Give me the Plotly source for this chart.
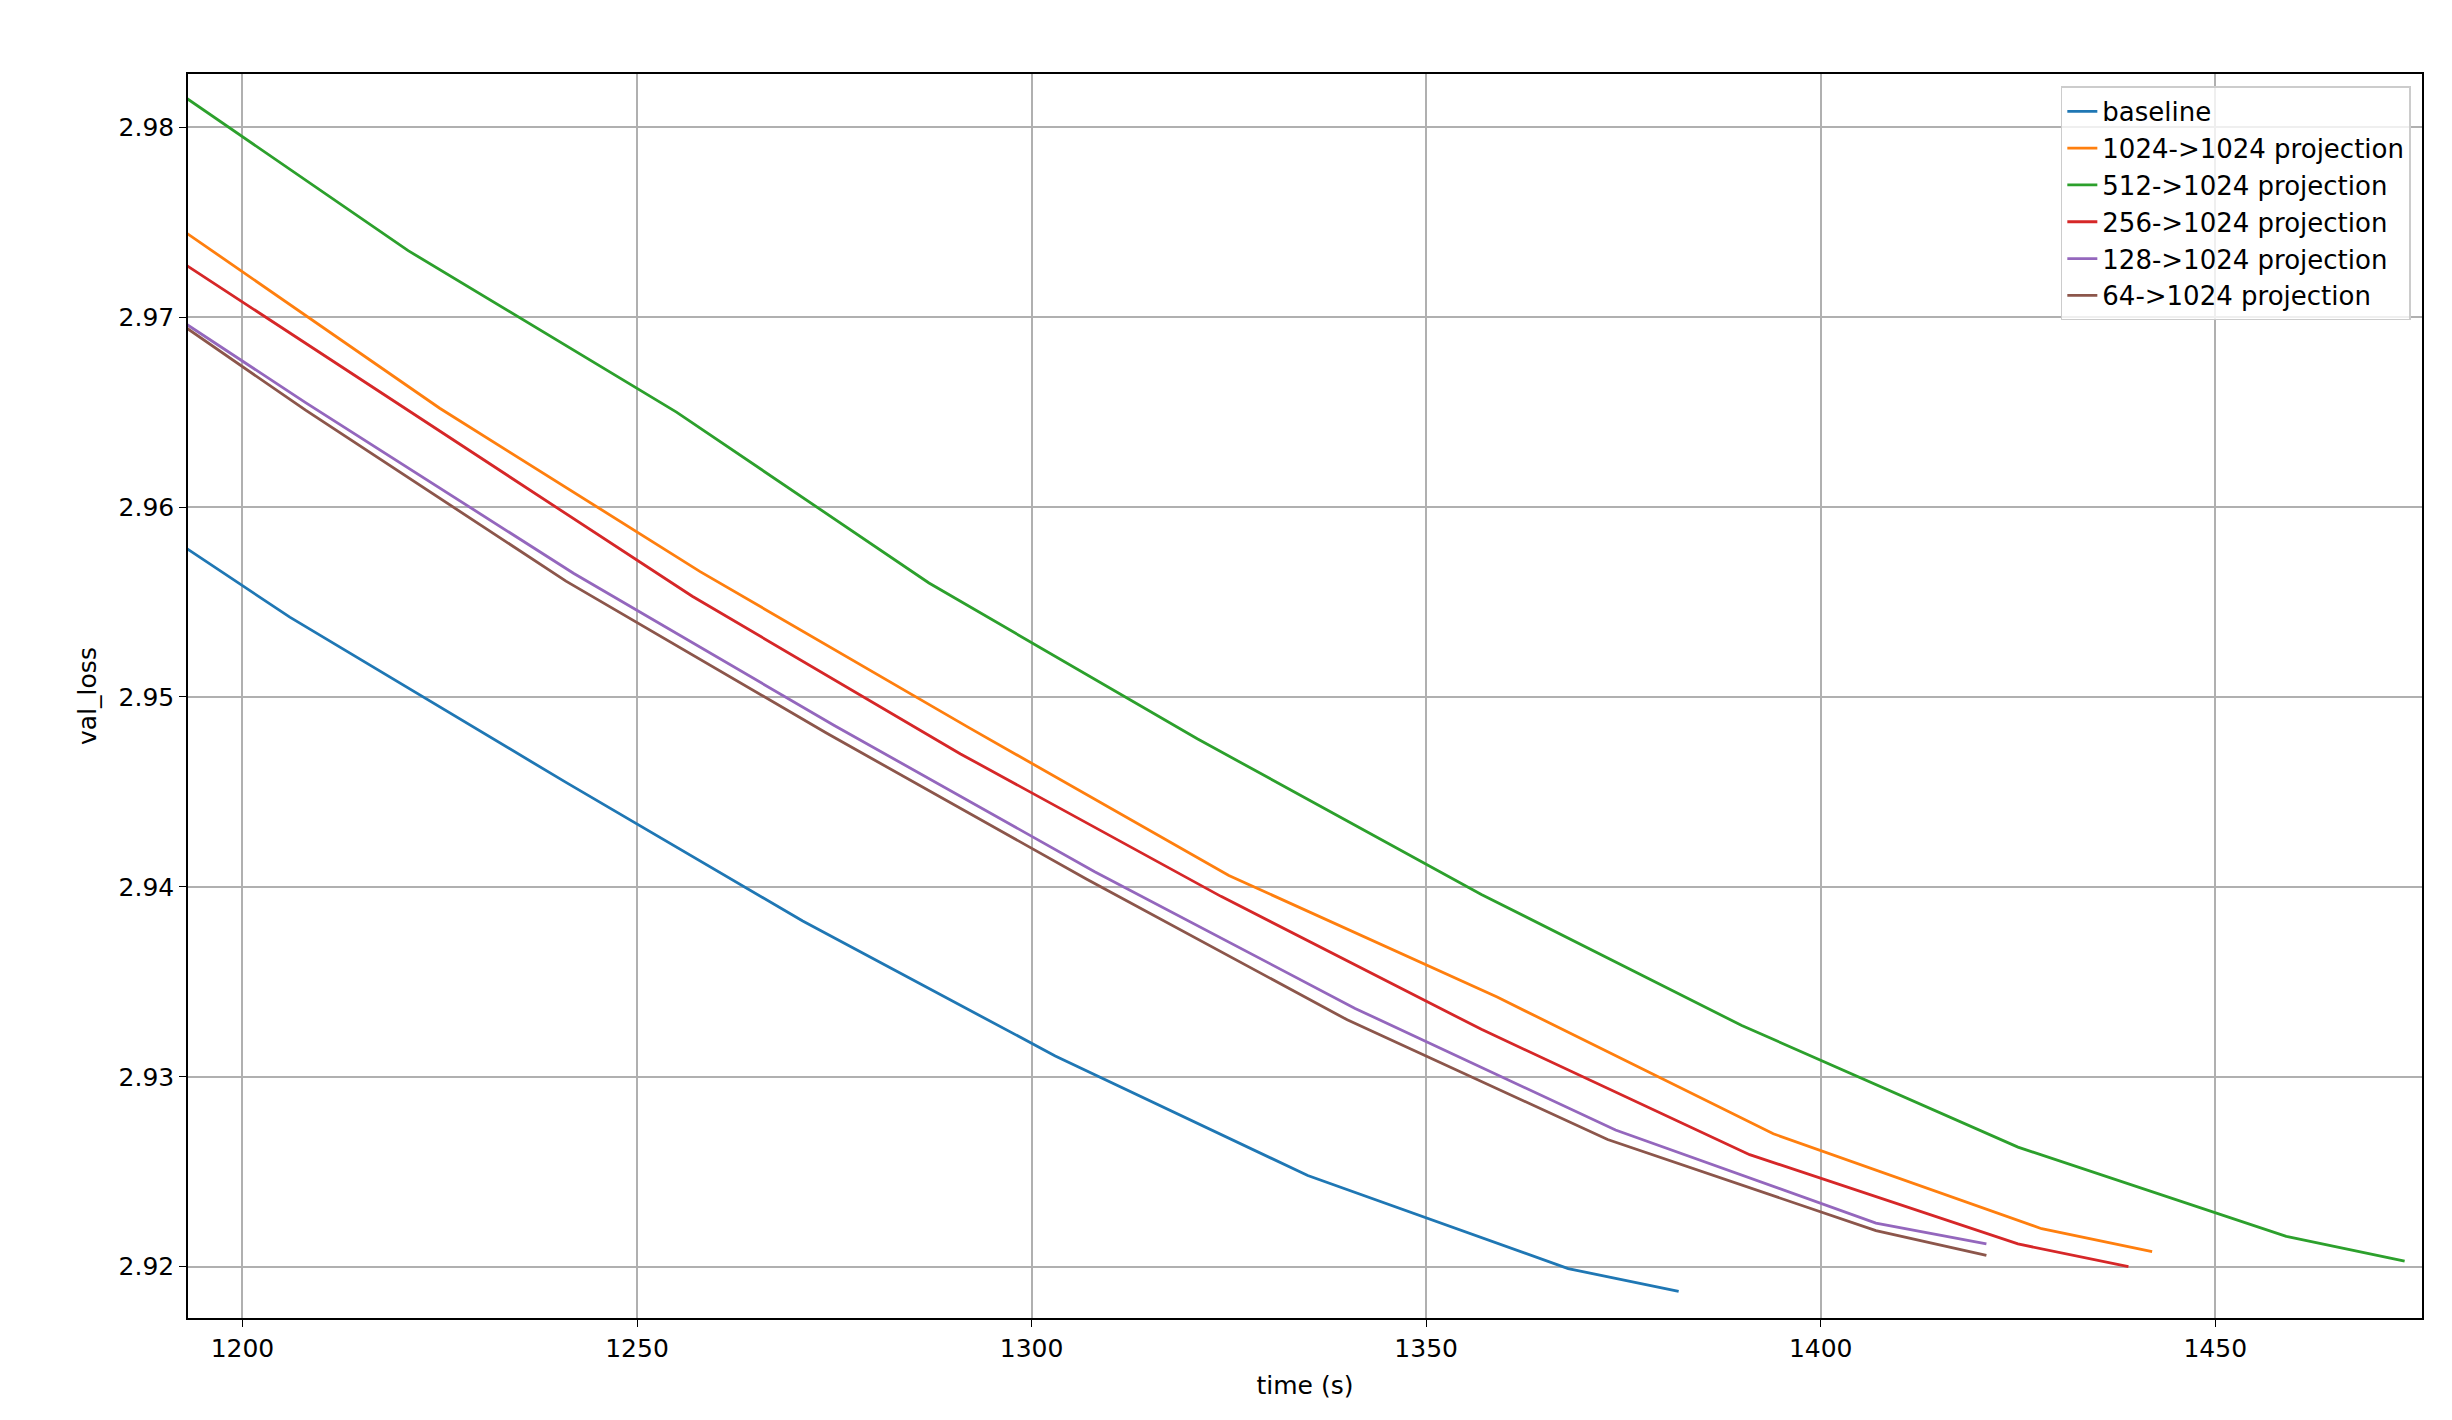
import plotly.graph_objects as go

names = ['baseline', '1024->1024 projection', '512->1024 projection',
         '256->1024 projection', '128->1024 projection', '64->1024 projection']
colors = ['#1f77b4', '#ff7f0e', '#2ca02c', '#d62728', '#9467bd', '#8c564b']

baseline_t = [1193, 1206, 1241, 1271, 1303, 1335, 1368, 1382]
baseline_v = [2.9578, 2.9542, 2.9455, 2.9382, 2.9311, 2.9248, 2.9199, 2.9187]
p1024_t = [1193, 1225, 1258, 1292, 1325, 1359, 1394, 1428, 1442]
p1024_v = [2.9744, 2.9652, 2.9566, 2.9484, 2.9406, 2.9342, 2.9270, 2.9220, 2.9208]
p512_t = [1193, 1221, 1255, 1287, 1321, 1357, 1390, 1425, 1459, 1474]
p512_v = [2.9815, 2.9735, 2.9650, 2.9560, 2.9478, 2.9396, 2.9327, 2.9263, 2.9216, 2.9203]
p256_t = [1193, 1225, 1257, 1291, 1324, 1357, 1391, 1425, 1439]
p256_v = [2.9727, 2.9640, 2.9553, 2.9470, 2.9395, 2.9325, 2.9259, 2.9212, 2.9200]
p128_t = [1193, 1208, 1242, 1275, 1308, 1341, 1374, 1407, 1421]
p128_v = [2.9696, 2.9655, 2.9565, 2.9485, 2.9408, 2.9336, 2.9272, 2.9223, 2.9212]
p64_t = [1193, 1208, 1241, 1274, 1307, 1340, 1373, 1407, 1421]
p64_v = [2.9694, 2.9651, 2.9561, 2.9481, 2.9404, 2.9330, 2.9267, 2.9219, 2.9206]

series = [(baseline_t, baseline_v), (p1024_t, p1024_v), (p512_t, p512_v),
          (p256_t, p256_v), (p128_t, p128_v), (p64_t, p64_v)]

fig = go.Figure()
for name, color, (t, v) in zip(names, colors, series):
    fig.add_trace(go.Scatter(x=t, y=v, mode='lines', name=name,
                             line=dict(color=color, width=2.8)))

axis = dict(showline=True, linecolor='black', linewidth=1.5, mirror=True,
            showgrid=True, gridcolor='#b0b0b0', gridwidth=1.5, zeroline=False,
            ticks='outside', ticklen=7, tickcolor='black',
            tickfont=dict(size=25, color='black'))
fig.update_layout(
    width=2452, height=1420,
    paper_bgcolor='white', plot_bgcolor='white',
    font=dict(family='DejaVu Sans', size=25, color='black'),
    margin=dict(l=180, r=38, t=66, b=110),
    xaxis=dict(axis, range=[1193.1, 1476.2], dtick=50, title=dict(text='time (s)', font=dict(size=25))),
    yaxis=dict(axis, range=[2.9173, 2.9828], dtick=0.01, tickformat='.2f',
               title=dict(text='val_loss', font=dict(size=25))),
    legend=dict(x=0.995, y=0.99, xanchor='right', yanchor='top',
                bordercolor='#cccccc', borderwidth=1.5, bgcolor='rgba(255,255,255,0.8)',
                font=dict(size=26), tracegroupgap=4),
)
fig.write_html("out.html")
